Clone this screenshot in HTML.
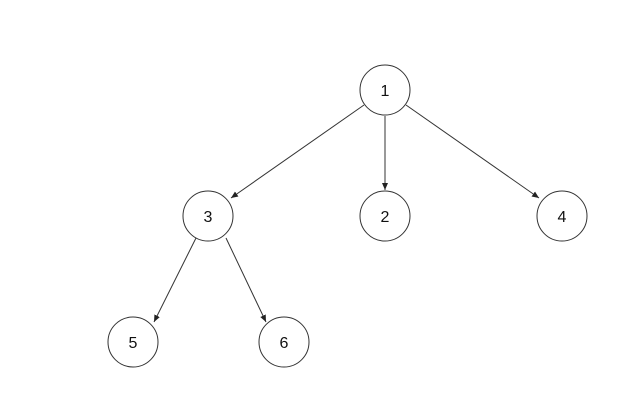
<!DOCTYPE html>
<html><head><style>body{margin:0;background:#fff}svg{display:block}</style></head><body>
<svg width="640" height="416" viewBox="0 0 640 416" xmlns="http://www.w3.org/2000/svg">
<defs><marker id="a" markerWidth="8" markerHeight="8" refX="7" refY="3" orient="auto" markerUnits="userSpaceOnUse"><path d="M0,0 L7,3 L0,6 Z" fill="#222"/></marker></defs>
<g stroke="#333" stroke-width="1" fill="none" marker-end="url(#a)">
<line x1="364" y1="105" x2="231" y2="198"/>
<line x1="385" y1="116" x2="385" y2="190"/>
<line x1="406" y1="105" x2="539" y2="198"/>
<line x1="196" y1="238" x2="154" y2="322"/>
<line x1="226" y1="238" x2="266" y2="322"/>
</g>
<g stroke="#333" stroke-width="1" fill="#fff">
<circle cx="385" cy="90" r="25"/>
<circle cx="208" cy="216" r="25"/>
<circle cx="385" cy="216" r="25"/>
<circle cx="562" cy="216" r="25"/>
<circle cx="133" cy="342" r="25"/>
<circle cx="284" cy="342" r="25"/>
</g>
<g font-family="Liberation Sans, sans-serif" font-size="16" text-anchor="middle" fill="#111">
<text x="385" y="96">1</text>
<text x="208" y="222">3</text>
<text x="385" y="222">2</text>
<text x="562" y="222">4</text>
<text x="133" y="348">5</text>
<text x="284" y="348">6</text>
</g>
</svg>
</body></html>
